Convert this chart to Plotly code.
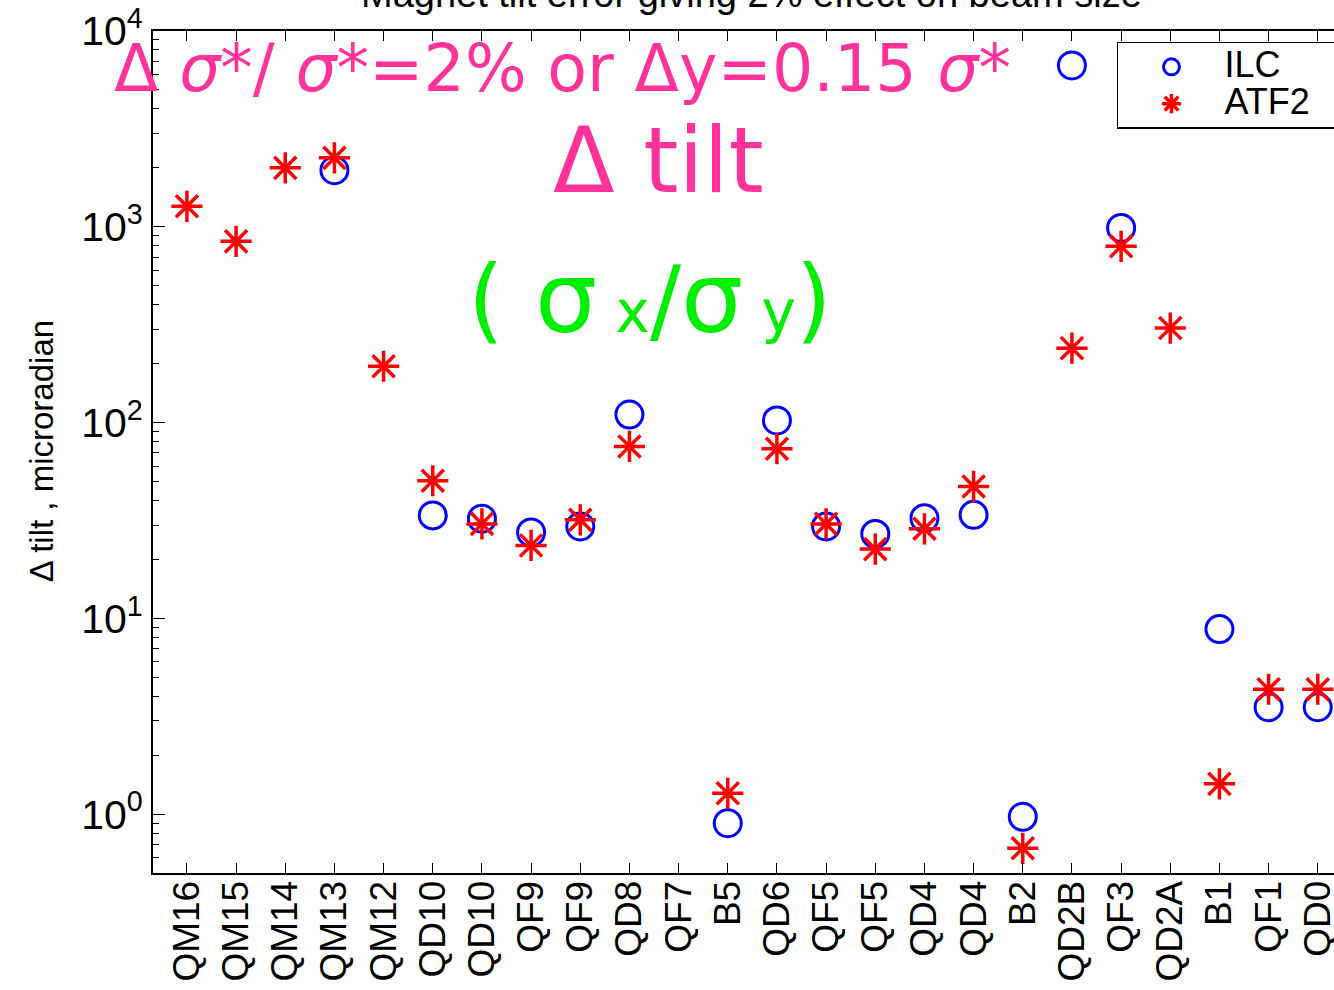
import plotly.graph_objects as go

# ---- data ----
magnets = ["QM16", "QM15", "QM14", "QM13", "QM12", "QD10", "QD10", "QF9", "QF9", "QD8",
           "QF7", "B5", "QD6", "QF5", "QF5", "QD4", "QD4", "B2", "QD2B", "QF3",
           "QD2A", "B1", "QF1", "QD0"]
positions = list(range(1, len(magnets) + 1))

ilc = [None, None, None, 1945, None, 33.6, 32.3, 27.5, 29.5, 110,
       None, 0.90, 102.6, 29.5, 27.0, 32.5, 33.8, 0.97, 6670, 987,
       None, 8.82, 3.52, 3.52]
atf2 = [1273, 843, 2000, 2250, 194, 50.5, 30.4, 23.6, 31.9, 75.6,
        None, 1.28, 73.6, 30.4, 22.6, 28.7, 47.2, 0.67, 240, 795,
        304, 1.43, 4.35, 4.35]

ytick_vals = [1, 10, 100, 1000, 10000]
ytick_text = ["10<sup>0</sup>", "10<sup>1</sup>", "10<sup>2</sup>", "10<sup>3</sup>", "10<sup>4</sup>"]
minor_vals = [m * 10 ** e for e in range(-1, 4) for m in range(2, 10)]

FONT = "Liberation Sans, Arial, Helvetica, sans-serif"
DECO = "DejaVu Sans, sans-serif"
PINK = "#FF3399"
GREEN = "#00EE00"

fig = go.Figure()
fig.add_trace(go.Scatter(
    x=positions, y=ilc, mode="markers",
    name="<span style='font-size:36px'>ILC</span>",
    marker=dict(symbol="circle-open", size=27, color="#0000FF", line=dict(width=3, color="#0000FF")),
))
fig.add_trace(go.Scatter(
    x=positions, y=atf2, mode="markers",
    name="<span style='font-size:36px'>ATF2&nbsp;&nbsp;&nbsp;</span>",
    marker=dict(symbol="asterisk-open", size=26, color="#FF0000", line=dict(width=3.5, color="#FF0000")),
))

fig.update_layout(
    width=1334, height=990,
    margin=dict(l=153, r=0, t=31, b=117, autoexpand=False),
    paper_bgcolor="white", plot_bgcolor="white",
    font=dict(family=FONT, color="black", size=30),
    showlegend=True,
    legend=dict(
        x=1.011, xanchor="right", y=0.987, yanchor="top",
        bordercolor="black", borderwidth=1.5, bgcolor="white",
        font=dict(family=FONT, size=26, color="black"),
        itemwidth=96, tracegroupgap=0,
    ),
    xaxis=dict(
        range=[0.31, 24.33], tickmode="array", tickvals=positions, ticktext=magnets,
        tickangle=-90, ticks="inside", ticklen=10, tickwidth=1.2, tickcolor="black",
        showline=True, linecolor="black", linewidth=2, mirror="ticks",
        showgrid=False, zeroline=False, ticklabeloverflow="allow", automargin=False,
        ticklabelstandoff=-9,
        tickfont=dict(family=FONT, size=37, color="black"),
    ),
    yaxis=dict(
        type="log", range=[-0.3, 4],
        tickmode="array", tickvals=ytick_vals, ticktext=ytick_text,
        ticks="inside", ticklen=12, tickwidth=1.2, tickcolor="black",
        minor=dict(tickmode="array", tickvals=minor_vals, ticks="inside", ticklen=6,
                   tickwidth=1.2, tickcolor="black", showgrid=False),
        showline=True, linecolor="black", linewidth=2, mirror=False,
        showgrid=False, zeroline=False, automargin=False,
        tickfont=dict(family=FONT, size=41, color="black"),
    ),
)

annotations = [
    dict(text="Magnet tilt error giving 2% effect on beam size", x=0.507, y=1.0166,
         xanchor="center", yanchor="bottom", font=dict(family=FONT, size=38, color="black")),
    dict(text="Δ tilt , microradian", x=-0.0948, y=0.501, textangle=-90,
         xanchor="center", yanchor="middle", font=dict(family=FONT, size=33, color="black")),
    dict(text="Δ <i>σ</i>*/ <i>σ</i>*=2% or Δy=0.15 <i>σ</i>*", x=0.347, y=0.956,
         xanchor="center", yanchor="middle", font=dict(family=DECO, size=65, color=PINK)),
    dict(text="Δ tilt", x=0.428, y=0.846, xanchor="center", yanchor="middle",
         font=dict(family=DECO, size=90, color=PINK)),
    dict(text="(<span style='font-size:98px'> σ</span><span style='font-size:58px'> x</span>/"
              "<span style='font-size:98px'>σ</span><span style='font-size:58px'> y</span>)",
         x=0.421, y=0.683, xanchor="center", yanchor="middle",
         font=dict(family=DECO, size=92, color=GREEN)),
]
for a in annotations:
    a.update(xref="paper", yref="paper", showarrow=False)
    fig.add_annotation(**a)

fig.write_html("out.html")
